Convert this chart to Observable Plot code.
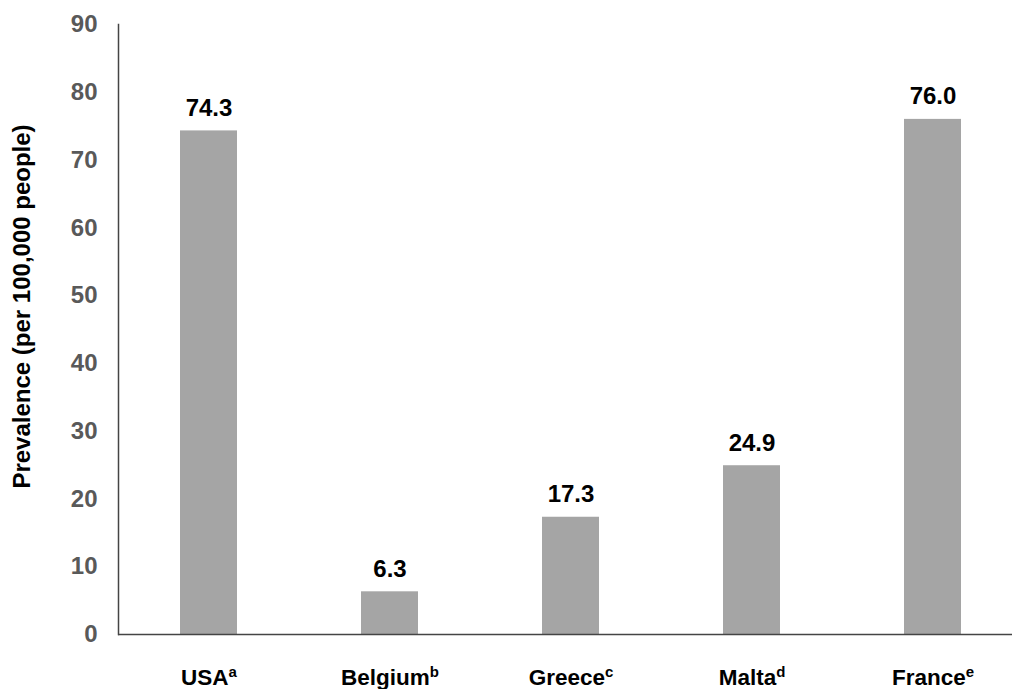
<!DOCTYPE html>
<html>
<head>
<meta charset="utf-8">
<script src="https://cdn.jsdelivr.net/npm/d3@7"></script>
<script src="https://cdn.jsdelivr.net/npm/@observablehq/plot@0.6"></script>
<style>
  html, body { margin: 0; padding: 0; background: #fff; }
  #chart { width: 1012px; height: 689px; }
  svg { font-family: "Liberation Sans", Arial, sans-serif; }
</style>
</head>
<body>
<div id="chart"></div>
<script>
const countries = ["USA", "Belgium", "Greece", "Malta", "France"];
const superscripts = ["a", "b", "c", "d", "e"];
const prevalence = [74.3, 6.3, 17.3, 24.9, 76.0];
const yTicks = [0, 10, 20, 30, 40, 50, 60, 70, 80, 90];
const yLabel = "Prevalence (per 100,000 people)";

const data = countries.map((c, i) => ({country: c, sup: superscripts[i], value: prevalence[i]}));

const chart = Plot.plot({
  width: 1012,
  height: 689,
  marginLeft: 118,
  marginRight: 0,
  marginTop: 24,
  marginBottom: 55,
  style: {fontFamily: "Liberation Sans, Arial, sans-serif", background: "#fff"},
  x: {domain: countries, range: [118, 1023], paddingInner: 0.685, paddingOuter: 0.3425, label: null},
  y: {domain: [0, 90], label: null},
  marks: [
    Plot.barY(data, {x: "country", y: "value", fill: "#a5a5a5"}),
    Plot.text(data, {x: "country", y: "value", text: d => d.value.toFixed(1), dy: -15, lineAnchor: "bottom",
      fontSize: 24, fontWeight: "bold", fill: "#000"}),
    Plot.axisY({ticks: yTicks, tickSize: 0, tickPadding: 21, fontSize: 24, fontWeight: "bold", fill: "#595959", label: null}),
    Plot.axisX({tickSize: 0, tickPadding: 50, fontSize: 22.5, fontWeight: "bold", fill: "#000", label: null, lineAnchor: "bottom"}),
    Plot.frame({anchor: "left", stroke: "#444", strokeWidth: 1.5}),
    Plot.ruleY([0], {stroke: "#444", strokeWidth: 1.5}),
    Plot.text([yLabel], {frameAnchor: "left", textAnchor: "middle", dx: -96, dy: -23, rotate: -90,
      fontSize: 24, fontWeight: "bold", fill: "#000", text: d => d})
  ]
});

document.getElementById("chart").appendChild(chart);

// Add superscript letters to the x tick labels
const supByCountry = new Map(data.map(d => [d.country, d.sup]));
d3.select(chart).selectAll('g[aria-label="x-axis tick label"] text').each(function () {
  const t = d3.select(this);
  const name = t.text();
  const sup = supByCountry.get(name);
  if (!sup) return;
  t.text(null);
  t.append("tspan").text(name);
  t.append("tspan").text(sup).attr("font-size", 15).attr("dy", "-0.5em");
});
</script>
</body>
</html>
